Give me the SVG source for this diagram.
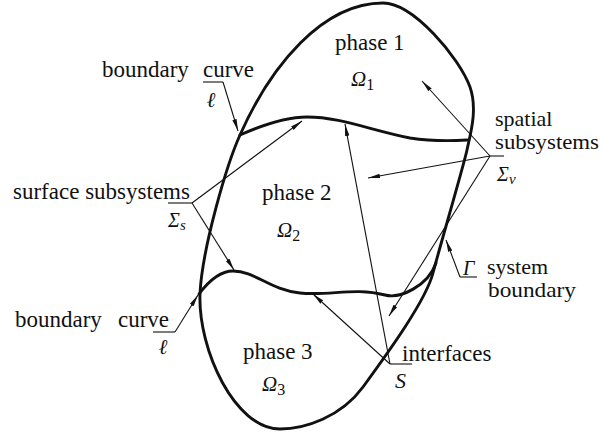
<svg xmlns="http://www.w3.org/2000/svg" width="601" height="435" viewBox="0 0 601 435">
<style>
  .thick { fill: none; stroke: #111; stroke-width: 2.9; stroke-linejoin: round; stroke-linecap: round; }
  .lead { fill: none; stroke: #111; stroke-width: 1.1; }
  .arr { marker-end: url(#ah); }
  .lbl { font-family: "Liberation Serif", "Times New Roman", serif; font-size: 23px; fill: #111; }
  .lbl2 { font-family: "Liberation Serif", "Times New Roman", serif; font-size: 22px; fill: #111; }
  .sym { font-family: "Liberation Serif", "Times New Roman", serif; font-style: italic; fill: #111; }
  .ell { font-family: "Liberation Serif", "DejaVu Serif", serif; font-style: italic; font-weight: bold; font-size: 21px; fill: #111; }
</style>
<defs>
  <marker id="ah" viewBox="0 0 12 6" refX="12" refY="3" markerWidth="12" markerHeight="6" markerUnits="userSpaceOnUse" orient="auto">
    <path d="M0,0.8 L12,3 L0,5.2 Z" fill="#111"/>
  </marker>
</defs>
<rect width="601" height="435" fill="#fff"/>

<g id="system-boundary">
  <path class="thick" d="M240,135 C271,65 323,3 383,3 C413,3 459,57 470,87 C478,110 470,135 467,150 C463,168 440,246 433,273 C426,300 390,350 363,387 C341,417 305,429 280,429 C235,429 198,350 200,294 C202,249 226.5,165 240,135 Z"/>
</g>
<g id="interface-12">
  <path class="thick" d="M240,135 C258,127 283,117 307,117 C340,117 370,130 410,138 C430,141 450,141 467,140"/>
</g>
<g id="interface-23">
  <path class="thick" d="M199,294 C208,282 220,271 233,271 C255,271 270,290 300,293 C330,296 355,287 385,295 C400,299 428,286 436,263"/>
</g>

<g id="phase1">
  <text class="lbl" x="335" y="50">phase 1</text>
  <text class="sym" x="351" y="86" font-size="21">Ω<tspan font-style="normal" font-size="16" dy="4">1</tspan></text>
</g>
<g id="phase2">
  <text class="lbl" x="262" y="200">phase 2</text>
  <text class="sym" x="277" y="237" font-size="21">Ω<tspan font-style="normal" font-size="16" dy="4">2</tspan></text>
</g>
<g id="phase3">
  <text class="lbl" x="243" y="359">phase 3</text>
  <text class="sym" x="262" y="391" font-size="21">Ω<tspan font-style="normal" font-size="16" dy="4">3</tspan></text>
</g>

<g id="connectors">
  <path class="lead" d="M203,82 H223"/>
  <path class="lead arr" d="M223,82 L238,131"/>
  <path class="lead" d="M168,203 H192"/>
  <path class="lead arr" d="M192,203 L302,121"/>
  <path class="lead arr" d="M192,203 L234,270"/>
  <path class="lead" d="M490,156 H504"/>
  <path class="lead arr" d="M490,156 L422,81"/>
  <path class="lead arr" d="M490,156 L368,178"/>
  <path class="lead arr" d="M490,156 L389,316"/>
  <path class="lead" d="M460,277 H477"/>
  <path class="lead arr" d="M460,277 L446,240"/>
  <path class="lead" d="M390,364 H412"/>
  <path class="lead arr" d="M390,364 L345,124"/>
  <path class="lead arr" d="M390,364 L313,294"/>
  <path class="lead" d="M153,332 H175"/>
  <path class="lead arr" d="M175,332 L198,295"/>
</g>

<g id="label-boundary-curve-top">
  <text class="lbl" y="77"><tspan x="102">boundary </tspan><tspan x="203">curve</tspan></text>
  <text class="ell" x="207" y="107">ℓ</text>
</g>
<g id="label-surface">
  <text class="lbl" x="13" y="199">surface subsystems</text>
  <text class="sym" x="168" y="227" font-size="20">Σ<tspan font-size="15" dy="3">s</tspan></text>
</g>
<g id="label-spatial">
  <text class="lbl2" x="495" y="126">spatial</text>
  <text class="lbl2" x="495" y="149" textLength="104" lengthAdjust="spacingAndGlyphs">subsystems</text>
  <text class="sym" x="497" y="181" font-size="20">Σ<tspan font-size="15" dy="3">ν</tspan></text>
</g>
<g id="label-system-boundary">
  <text class="sym" x="463" y="275" font-size="20">Γ</text>
  <text class="lbl2" x="487" y="274">system</text>
  <text class="lbl2" x="488" y="297" textLength="88" lengthAdjust="spacingAndGlyphs">boundary</text>
</g>
<g id="label-interfaces">
  <text class="lbl" x="402" y="361">interfaces</text>
  <text class="sym" x="395" y="388" font-size="22">S</text>
</g>
<g id="label-boundary-curve-bottom">
  <text class="lbl" y="327"><tspan x="15">boundary </tspan><tspan x="118">curve</tspan></text>
  <text class="ell" x="159" y="354">ℓ</text>
</g>
</svg>
